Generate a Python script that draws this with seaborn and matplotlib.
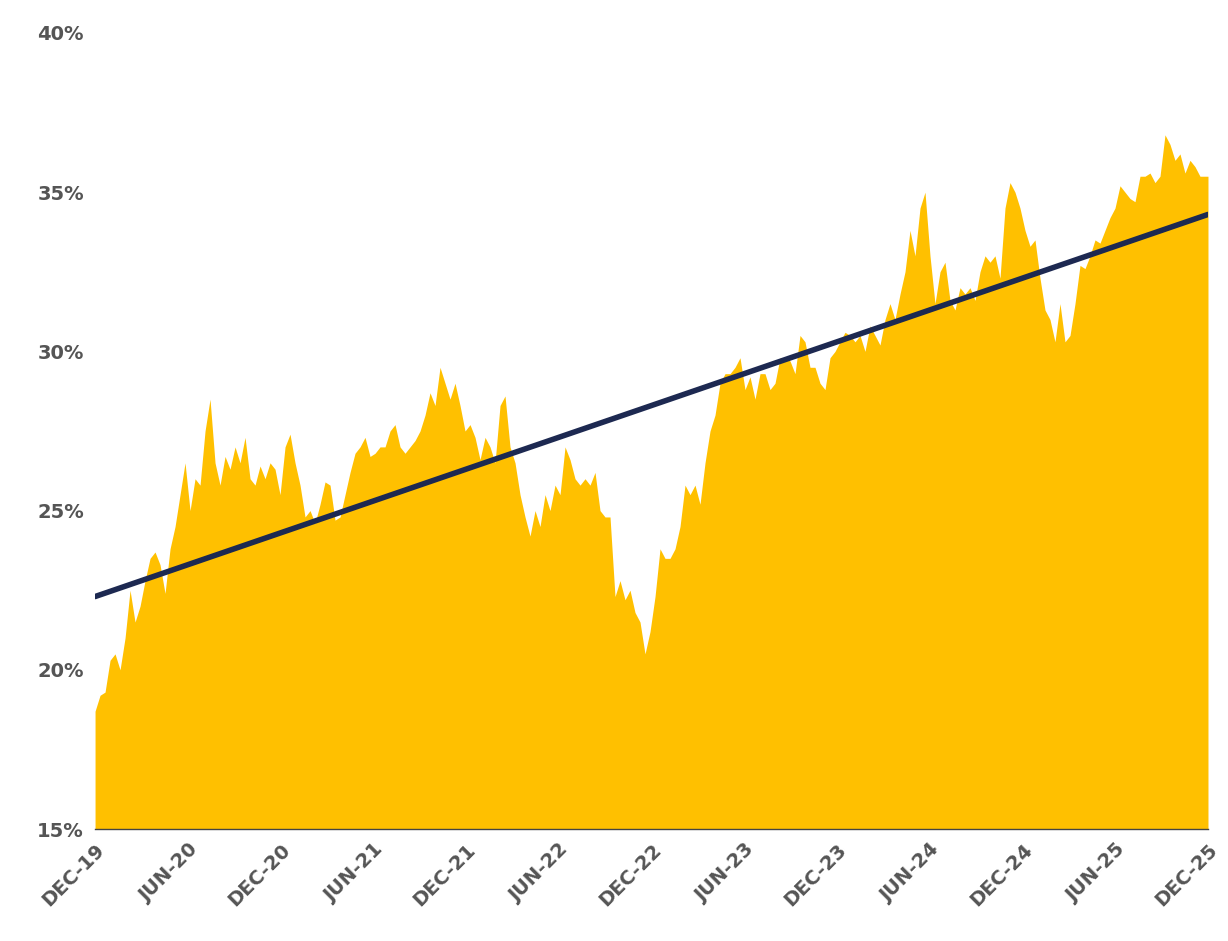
import numpy as np
import matplotlib
matplotlib.use("Agg")
import matplotlib.pyplot as plt
import seaborn as sns

sns.set_theme(style="white")
plt.rcParams['font.family'] = ['DejaVu Sans']

values = [18.7,19.2,19.3,20.3,20.5,20.0,21.0,22.5,21.5,22.0,22.8,23.5,23.7,23.3,22.4,23.8,24.5,25.5,26.5,25.0,
26.0,25.8,27.5,28.5,26.5,25.8,26.7,26.3,27.0,26.5,27.3,26.0,25.8,26.4,26.0,26.5,26.3,25.5,27.0,27.4,
26.5,25.8,24.8,25.0,24.6,25.2,25.9,25.8,24.7,24.8,25.5,26.2,26.8,27.0,27.3,26.7,26.8,27.0,27.0,27.5,
27.7,27.0,26.8,27.0,27.2,27.5,28.0,28.7,28.3,29.5,29.0,28.5,29.0,28.3,27.5,27.7,27.3,26.6,27.3,27.0,
26.5,28.3,28.6,27.0,26.5,25.5,24.8,24.2,25.0,24.5,25.5,25.0,25.8,25.5,27.0,26.6,26.0,25.8,26.0,25.8,
26.2,25.0,24.8,24.8,22.3,22.8,22.2,22.5,21.8,21.5,20.5,21.2,22.3,23.8,23.5,23.5,23.8,24.5,25.8,25.5,
25.8,25.2,26.5,27.5,28.0,29.0,29.3,29.3,29.5,29.8,28.8,29.2,28.5,29.3,29.3,28.8,29.0,29.8,29.8,29.7,
29.3,30.5,30.3,29.5,29.5,29.0,28.8,29.8,30.0,30.3,30.6,30.5,30.3,30.5,30.0,30.8,30.5,30.2,31.0,31.5,
31.0,31.8,32.5,33.8,33.0,34.5,35.0,33.0,31.5,32.5,32.8,31.6,31.3,32.0,31.8,32.0,31.6,32.5,33.0,32.8,
33.0,32.3,34.5,35.3,35.0,34.5,33.8,33.3,33.5,32.3,31.3,31.0,30.3,31.5,30.3,30.5,31.5,32.7,32.6,33.0,
33.5,33.4,33.8,34.2,34.5,35.2,35.0,34.8,34.7,35.5,35.5,35.6,35.3,35.5,36.8,36.5,36.0,36.2,35.6,36.0,
35.8,35.5,35.5]
trend_start, trend_end = 22.3, 34.3
tick_labels = ["DEC-19","JUN-20","DEC-20","JUN-21","DEC-21","JUN-22","DEC-22",
               "JUN-23","DEC-23","JUN-24","DEC-24","JUN-25","DEC-25"]
y_ticks = [15, 20, 25, 30, 35, 40]

n = len(values)
x = np.arange(n) * (72 / 222.6)
x[-1] = 72

fig = plt.figure(figsize=(12.28, 9.41), dpi=100)
ax = fig.add_axes([0.0774, 0.119, 0.9063, 0.846])
ax.fill_between(x, 15, values, color="#FFC000", linewidth=0)
sns.lineplot(x=[0, 72], y=[trend_start, trend_end], color="#1D2951", linewidth=4, ax=ax)

ax.set_xlim(0, 72)
ax.set_ylim(15, 40)
ax.set_yticks(y_ticks)
ax.set_yticklabels([f"{v}%" for v in y_ticks], fontsize=14, fontweight="bold", color="#555555")
ax.set_xticks(np.arange(0, 73, 6))
ax.set_xticklabels(tick_labels, rotation=45, ha="right", rotation_mode="anchor",
                   fontsize=14, fontweight="bold", color="#555555")
ax.tick_params(axis="both", length=0, pad=8)
for s in ["top", "right", "left"]:
    ax.spines[s].set_visible(False)
ax.spines["bottom"].set_color("#444444")
ax.spines["bottom"].set_linewidth(1)
ax.grid(False)
fig.savefig("out.png", dpi=100)
